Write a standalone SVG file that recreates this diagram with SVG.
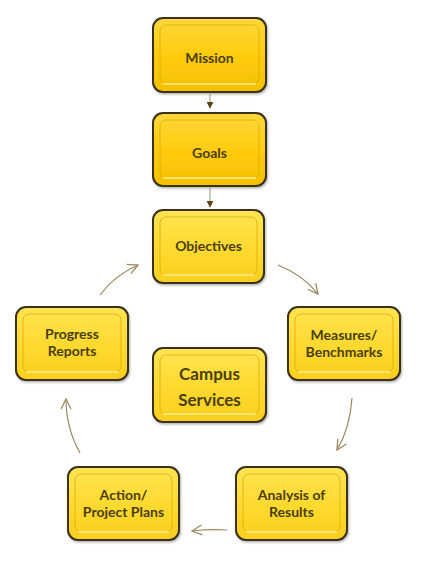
<svg xmlns="http://www.w3.org/2000/svg" width="421" height="567" viewBox="0 0 421 567">
<defs>
<linearGradient id="gDark" x1="0" y1="0" x2="0" y2="1">
<stop offset="0" stop-color="#FFD83A"/>
<stop offset="0.5" stop-color="#FFCB10"/>
<stop offset="1" stop-color="#F5C000"/>
</linearGradient>
<linearGradient id="gLight" x1="0" y1="0" x2="0" y2="1">
<stop offset="0" stop-color="#FFE455"/>
<stop offset="0.5" stop-color="#FFDA30"/>
<stop offset="1" stop-color="#F8CF20"/>
</linearGradient>
<marker id="solid" viewBox="0 0 10 10" refX="9" refY="5" markerWidth="7" markerHeight="7" orient="auto" markerUnits="userSpaceOnUse">
<path d="M0,0 L10,5 L0,10 z" fill="#5a4410"/>
</marker>
<marker id="open" viewBox="0 0 12 12" refX="11" refY="6" markerWidth="12" markerHeight="12" orient="auto" markerUnits="userSpaceOnUse">
<path d="M1,1 L11,6 L1,11" fill="none" stroke="#9c8a62" stroke-width="1.3"/>
</marker>
<filter id="sh" x="-10%" y="-10%" width="130%" height="130%">
<feDropShadow dx="1" dy="1.5" stdDeviation="1.2" flood-color="#000" flood-opacity="0.3"/>
</filter>
</defs>
<style>
.outer{stroke:#3a3012;stroke-width:2;filter:url(#sh)}
.dark{fill:url(#gDark)}
.light{fill:url(#gLight)}
.inner{fill:none;stroke:#d9ac00;stroke-width:1;opacity:0.8}
.hl{fill:none;stroke:#fff3a0;stroke-width:1.5;opacity:0.9}
.t{font-family:Lato,"Open Sans","Liberation Sans",sans-serif;font-weight:bold;font-size:14px;fill:#4a3e06;text-anchor:middle}
.big{font-size:17px}
.conn{fill:none;stroke:#9c8a62;stroke-width:1.2}
.straight{fill:none;stroke:#b0a890;stroke-width:1.2}
</style>

<g id="connectors">
<line class="straight" x1="210" y1="94" x2="210" y2="108" marker-end="url(#solid)"/>
<line class="straight" x1="210" y1="188" x2="210" y2="207" marker-end="url(#solid)"/>
<path class="conn" d="M278,265 Q303,275 318,294" marker-end="url(#open)"/>
<path class="conn" d="M352,398 Q350,428 337,450" marker-end="url(#open)"/>
<path class="conn" d="M227,530 Q210,529 192,531" marker-end="url(#open)"/>
<path class="conn" d="M80,453 Q66,428 66,399" marker-end="url(#open)"/>
<path class="conn" d="M100,295 Q115,275 138,265" marker-end="url(#open)"/>
</g>

<g id="mission">
<rect class="outer dark" x="153" y="18" width="113" height="74" rx="10"/>
<rect class="inner" x="160" y="25" width="99" height="59" rx="6"/>
<line class="hl" x1="163" y1="84" x2="256" y2="84"/>
<text class="t" x="209.5" y="63">Mission</text>
</g>

<g id="goals">
<rect class="outer dark" x="153" y="113" width="113" height="73" rx="10"/>
<rect class="inner" x="160" y="120" width="99" height="58" rx="6"/>
<line class="hl" x1="163" y1="178" x2="256" y2="178"/>
<text class="t" x="209.5" y="158">Goals</text>
</g>

<g id="objectives">
<rect class="outer light" x="153" y="210" width="111" height="73" rx="10"/>
<rect class="inner" x="160" y="217" width="97" height="58" rx="6"/>
<line class="hl" x1="163" y1="275" x2="254" y2="275"/>
<text class="t" x="208.5" y="251">Objectives</text>
</g>

<g id="measures">
<rect class="outer light" x="288" y="307" width="112" height="73" rx="10"/>
<rect class="inner" x="295" y="314" width="98" height="58" rx="6"/>
<line class="hl" x1="298" y1="372" x2="390" y2="372"/>
<text class="t" x="344" y="340">Measures/</text>
<text class="t" x="344" y="357">Benchmarks</text>
</g>

<g id="progress">
<rect class="outer light" x="16" y="307" width="112" height="73" rx="10"/>
<rect class="inner" x="23" y="314" width="98" height="58" rx="6"/>
<line class="hl" x1="26" y1="372" x2="118" y2="372"/>
<text class="t" x="72" y="339">Progress</text>
<text class="t" x="72" y="356">Reports</text>
</g>

<g id="campus">
<rect class="outer light" x="153" y="348" width="113" height="74" rx="10"/>
<rect class="inner" x="160" y="355" width="99" height="59" rx="6"/>
<line class="hl" x1="163" y1="414" x2="256" y2="414"/>
<text class="t big" x="209.5" y="380">Campus</text>
<text class="t big" x="209.5" y="406">Services</text>
</g>

<g id="action">
<rect class="outer light" x="68" y="467" width="111" height="73" rx="10"/>
<rect class="inner" x="75" y="474" width="97" height="58" rx="6"/>
<line class="hl" x1="78" y1="532" x2="169" y2="532"/>
<text class="t" x="123.5" y="500">Action/</text>
<text class="t" x="123.5" y="517">Project Plans</text>
</g>

<g id="analysis">
<rect class="outer light" x="236" y="467" width="111" height="73" rx="10"/>
<rect class="inner" x="243" y="474" width="97" height="58" rx="6"/>
<line class="hl" x1="246" y1="532" x2="337" y2="532"/>
<text class="t" x="291.5" y="500">Analysis of</text>
<text class="t" x="291.5" y="517">Results</text>
</g>
</svg>
